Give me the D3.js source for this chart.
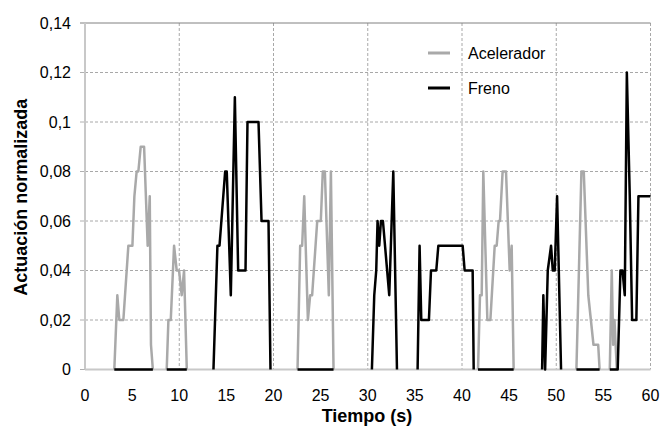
<!DOCTYPE html>
<html>
<head>
<meta charset="utf-8">
<script src="https://cdn.jsdelivr.net/npm/d3@7"></script>
<style>
  html, body { margin: 0; padding: 0; background: #fff; }
  svg { display: block; }
  text { font-family: "Liberation Sans", Arial, sans-serif; }
</style>
</head>
<body>
<svg id="chart" width="661" height="427"></svg>
<script>
// ---- data ----
const xTicks = [0, 5, 10, 15, 20, 25, 30, 35, 40, 45, 50, 55, 60];
const yTicks = [0, 0.02, 0.04, 0.06, 0.08, 0.1, 0.12, 0.14];
const yTickLabels = ["0", "0,02", "0,04", "0,06", "0,08", "0,1", "0,12", "0,14"];
const seriesNames = ["Acelerador", "Freno"];

const accelT = [3.11,3.43,3.64,4.07,4.6,5.03,5.24,5.48,5.66,5.91,6.27,6.65,6.87,7.0,7.2, null,
  8.67,8.85,9.1,9.45,9.73,9.98,10.26,10.51,10.8, null,
  22.55,22.83,23.04,23.26,23.65,23.89,24.1,24.64,25.02,25.23,25.45,25.87,26.09,26.37, null,
  41.7,41.91,42.09,42.26,42.69,43.01,43.47,43.68,43.89,44.03,44.31,44.67,45.06,45.27,45.48, null,
  52.14,52.67,52.92,53.4,53.95,54.45,54.6, null,
  55.68,55.89,56.04,56.18,56.3,56.43];
const accelV = [0,0.03,0.02,0.02,0.05,0.05,0.07,0.08,0.08,0.09,0.09,0.05,0.07,0.01,0, null,
  0,0.02,0.02,0.05,0.04,0.04,0.03,0.04,0, null,
  0,0.05,0.05,0.07,0.02,0.03,0.03,0.06,0.06,0.08,0.08,0.03,0.08,0, null,
  0,0.03,0.03,0.08,0.02,0.02,0.05,0.05,0.06,0.06,0.08,0.08,0.04,0.05,0, null,
  0,0.08,0.08,0.03,0.01,0.01,0, null,
  0,0.04,0.01,0.02,0.01,0];

const brakeT = [3.11,7.2, null, 8.67,10.8, null,
  13.63,14.05,14.27,14.87,15.04,15.47,15.9,16.25,17.03,17.24,18.41,18.73,19.47,19.68, null,
  22.55,26.37, null,
  30.44,30.69,30.9,31.04,31.22,31.4,31.61,32.28,32.71,33.1, null,
  35.29,35.5,35.68,36.49,36.71,37.27,37.49,40.07,40.28,41.13,41.24, null,
  41.7,45.48, null,
  48.5,48.63,48.82,49.1,49.45,49.63,49.84,50.09,50.51, null,
  52.14,54.6, null,
  55.68,56.43,56.52,56.81,57.03,57.27,57.49,57.8,58.05,58.5,58.72,60];
const brakeV = [0,0, null, 0,0, null,
  0,0.05,0.05,0.08,0.08,0.03,0.11,0.04,0.04,0.1,0.1,0.06,0.06,0, null,
  0,0, null,
  0,0.03,0.04,0.06,0.05,0.06,0.06,0.03,0.08,0, null,
  0,0.05,0.02,0.02,0.04,0.04,0.05,0.05,0.04,0.04,0, null,
  0,0, null,
  0,0.03,0,0.04,0.05,0.04,0.04,0.07,0, null,
  0,0, null,
  0,0,0,0.04,0.04,0.03,0.12,0.07,0.02,0.02,0.07,0.07];

// ---- layout ----
const svg = d3.select("#chart");
const x = d3.scaleLinear().domain([0, 60]).range([85, 650.5]);
const y = d3.scaleLinear().domain([0, 0.14]).range([369.5, 23]);

const gridColor = "#a8a8a8";

// horizontal gridlines
svg.append("g").selectAll("line")
  .data(yTicks.filter(d => d > 0 && d < 0.14))
  .join("line")
  .attr("x1", x(0)).attr("x2", x(60))
  .attr("y1", d => y(d)).attr("y2", d => y(d))
  .attr("stroke", gridColor).attr("stroke-width", 1)
  .attr("stroke-dasharray", "3,2");

// vertical gridlines
svg.append("g").selectAll("line")
  .data([10, 20, 30, 40, 50, 60])
  .join("line")
  .attr("x1", d => x(d)).attr("x2", d => x(d))
  .attr("y1", y(0.14)).attr("y2", y(0))
  .attr("stroke", gridColor).attr("stroke-width", 1)
  .attr("stroke-dasharray", "3,2");

// top border
svg.append("line")
  .attr("x1", x(0) - 5).attr("x2", x(60))
  .attr("y1", y(0.14)).attr("y2", y(0.14))
  .attr("stroke", "#808080").attr("stroke-width", 1);

// y tick marks
svg.append("g").selectAll("line")
  .data(yTicks.slice(0, -1))
  .join("line")
  .attr("x1", x(0) - 5).attr("x2", x(0))
  .attr("y1", d => y(d)).attr("y2", d => y(d))
  .attr("stroke", "#b0b0b0").attr("stroke-width", 1);

// axis lines
svg.append("line")
  .attr("x1", x(0)).attr("x2", x(0))
  .attr("y1", y(0.14)).attr("y2", y(0))
  .attr("stroke", "#c8c8c8").attr("stroke-width", 2);
svg.append("line")
  .attr("x1", x(0)).attr("x2", x(60))
  .attr("y1", y(0)).attr("y2", y(0))
  .attr("stroke", "#c8c8c8").attr("stroke-width", 2);

// series
function toPoints(ts, vs) {
  return ts.map((t, i) => (t === null || vs[i] === null) ? null : [t, vs[i]]);
}
const line = d3.line()
  .defined(d => d !== null)
  .x(d => x(d[0])).y(d => y(d[1]));

svg.append("path")
  .datum(toPoints(accelT, accelV))
  .attr("d", line)
  .attr("fill", "none")
  .attr("stroke", "#a9a9a9").attr("stroke-width", 2.5)
  .attr("stroke-linejoin", "round");

svg.append("path")
  .datum(toPoints(brakeT, brakeV))
  .attr("d", line)
  .attr("fill", "none")
  .attr("stroke", "#000").attr("stroke-width", 2.5)
  .attr("stroke-linejoin", "round");

// tick labels
svg.append("g").selectAll("text")
  .data(yTicks)
  .join("text")
  .attr("x", 71).attr("y", d => y(d))
  .attr("dy", "0.36em")
  .attr("text-anchor", "end")
  .attr("font-size", 16)
  .attr("fill", "#000")
  .text((d, i) => yTickLabels[i]);

svg.append("g").selectAll("text")
  .data(xTicks)
  .join("text")
  .attr("x", d => x(d)).attr("y", 401)
  .attr("text-anchor", "middle")
  .attr("font-size", 16)
  .attr("fill", "#000")
  .text(d => d);

// axis titles
svg.append("text")
  .attr("transform", `translate(27, ${(y(0) + y(0.14)) / 2 + 1}) rotate(-90)`)
  .attr("text-anchor", "middle")
  .attr("font-size", 18).attr("font-weight", "bold")
  .text("Actuación normalizada");

svg.append("text")
  .attr("x", 367).attr("y", 422)
  .attr("text-anchor", "middle")
  .attr("font-size", 18).attr("font-weight", "bold")
  .text("Tiempo (s)");

// legend
const legendColors = ["#a9a9a9", "#000"];
const legendY = [53, 88];
const lg = svg.append("g");
seriesNames.forEach((name, i) => {
  lg.append("line")
    .attr("x1", 428).attr("x2", 450)
    .attr("y1", legendY[i]).attr("y2", legendY[i])
    .attr("stroke", legendColors[i]).attr("stroke-width", 3);
  lg.append("text")
    .attr("x", 468).attr("y", legendY[i])
    .attr("dy", "0.36em")
    .attr("font-size", 16)
    .text(name);
});
</script>
</body>
</html>
